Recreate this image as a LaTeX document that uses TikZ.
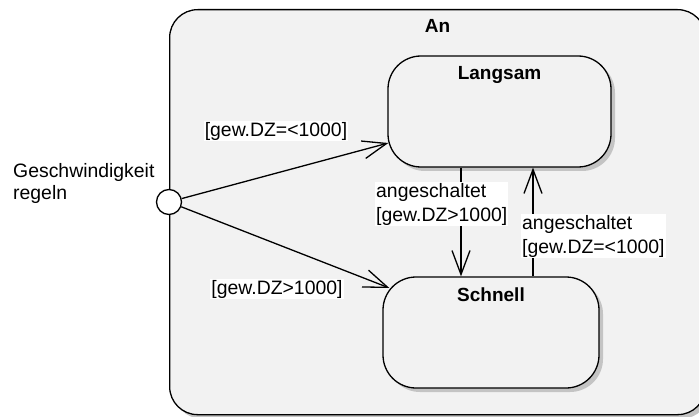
\documentclass[tikz,border=0pt]{standalone}
\usepackage{fontspec}
\setmainfont{Liberation Sans}
\definecolor{StateGray}{RGB}{242,242,242}
\definecolor{ShadowGray}{RGB}{196,196,196}
\usetikzlibrary{arrows.meta, positioning, calc, shadows}

\begin{document}
\begin{tikzpicture}[
    x=1pt, y=-1pt,
    every node/.style={font=\fontsize{19.4}{24}\selectfont},
    state/.style={draw=black, line width=1.3pt, fill=StateGray, rounded corners=33pt, inner sep=0pt,
                  drop shadow={shadow xshift=4pt, shadow yshift=-4pt, fill=ShadowGray, opacity=1}},
    title/.style={font=\fontsize{19}{23}\selectfont\bfseries, anchor=base, inner sep=0pt},
    guard/.style={fill=white, inner sep=1pt, align=left},
    trans/.style={-{Straight Barb[length=24pt, width=18pt]}, line width=1.3pt}
]
\useasboundingbox (0,0) rectangle (699,417);
\clip (0,0) rectangle (699,417);

\node[state, rounded corners=28pt, minimum width=536pt, minimum height=405pt, anchor=north west] (an) at (169,9) {};
\node[state, minimum width=223pt, minimum height=111pt] (langsam) at (499.5,111.5) {};
\node[state, minimum width=216pt, minimum height=111pt] (schnell) at (491,332.5) {};

\node[title] (antitle) at ([yshift=-24pt]an.north) {An};
\node[title] (langsamtitle) at ([yshift=-24pt]langsam.north) {Langsam};
\node[title] (schnelltitle) at ([yshift=-25pt]schnell.north) {Schnell};

\node[circle, draw, line width=1.3pt, fill=white, minimum size=25pt, inner sep=0pt] (regeln) at (169,202) {};
\node[anchor=base west, align=left, inner sep=0pt, font=\fontsize{19.4}{22}\selectfont] (regelntext) at (13,200) {Geschwindigkeit\\regeln};

\coordinate (tolangsam) at ($(langsam.west)+(1,31.5)$);
\coordinate (toschnell) at ($(schnell.west)+(7,-44.5)$);

\draw[trans] (regeln) -- (tolangsam);
\draw[trans] (regeln) -- (toschnell);
\draw[trans] ([xshift=-38.5pt]langsam.south) -- ([xshift=-30pt]schnell.north);
\draw[trans] ([xshift=42pt]schnell.north) -- ([xshift=33.5pt]langsam.south);

\node[guard] (langsamguard) at (276,131) {[gew.DZ=<1000]};
\node[guard] (schnellguard) at (277,289) {[gew.DZ>1000]};
\node[guard, anchor=base west] (downguard) at (375,221) {angeschaltet\\{[gew.DZ>1000]}};
\node[guard, anchor=base west] (upguard) at (521,253) {angeschaltet\\{[gew.DZ=<1000]}};
\end{tikzpicture}
\end{document}
